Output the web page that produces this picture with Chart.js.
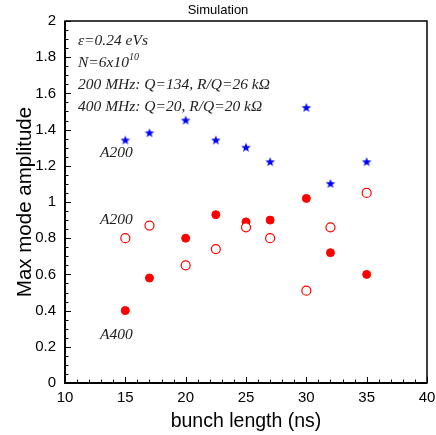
<!DOCTYPE html>
<html>
<head>
<meta charset="utf-8">
<script src="https://cdn.jsdelivr.net/npm/chart.js@4.4.1/dist/chart.umd.min.js"></script>
<style>
  html, body { margin: 0; padding: 0; background: #fff; }
  #wrap { width: 436px; height: 435px; }
</style>
</head>
<body>
<div id="wrap"><canvas id="chart" width="436" height="435"></canvas></div>
<script>
// datos
const bunchLength = [15, 17, 20, 22.5, 25, 27, 30, 32, 35];
const starValues = [1.34, 1.38, 1.45, 1.34, 1.30, 1.22, 1.52, 1.10, 1.22];
const openValues = [0.80, 0.87, 0.65, 0.74, 0.86, 0.80, 0.51, 0.86, 1.05];
const filledValues = [0.40, 0.58, 0.80, 0.93, 0.89, 0.90, 1.02, 0.72, 0.60];
const xTicks = [10, 15, 20, 25, 30, 35, 40];
const yTicks = [0, 0.2, 0.4, 0.6, 0.8, 1, 1.2, 1.4, 1.6, 1.8, 2];

const toPoints = vals => vals.map((v, i) => ({ x: bunchLength[i], y: v }));

// estrella rellena para la serie azul
function starImage(r, color) {
    const c = document.createElement('canvas');
    c.width = c.height = r * 2 + 2;
    const g = c.getContext('2d');
    g.translate(r + 1, r + 1);
    g.beginPath();
    for (let i = 0; i < 10; i++) {
        const rad = i % 2 === 0 ? r : r * 0.42;
        const a = -Math.PI / 2 + i * Math.PI / 5;
        g.lineTo(rad * Math.cos(a), rad * Math.sin(a));
    }
    g.closePath();
    g.fillStyle = color;
    g.fill();
    return c;
}

// marco, ticks hacia adentro y textos
const framePlugin = {
    id: 'frame',
    afterDraw(chart) {
        const { ctx, chartArea: a, scales: { x, y } } = chart;
        ctx.save();
        ctx.strokeStyle = '#000';
        ctx.lineWidth = 1.5;
        ctx.strokeRect(a.left, a.top, a.right - a.left, a.bottom - a.top);
        ctx.lineWidth = 2;
        ctx.beginPath();
        ctx.moveTo(a.left, a.top); ctx.lineTo(a.left, a.bottom); ctx.lineTo(a.right, a.bottom);
        ctx.stroke();

        ctx.lineWidth = 1;
        ctx.beginPath();
        for (let v = 0; v <= 2.0001; v += 0.05) {
            const py = Math.round(y.getPixelForValue(v)) + 0.5;
            const major = Math.abs(v / 0.2 - Math.round(v / 0.2)) < 1e-6;
            ctx.moveTo(a.left, py); ctx.lineTo(a.left + (major ? 6 : 3.5), py);
        }
        for (let v = 10; v <= 40; v += 1) {
            const px = Math.round(x.getPixelForValue(v)) + 0.5;
            const major = v % 5 === 0;
            ctx.moveTo(px, a.bottom); ctx.lineTo(px, a.bottom - (major ? 6 : 3.5));
        }
        ctx.stroke();

        ctx.fillStyle = '#222';
        ctx.textBaseline = 'middle';
        const serif = 'italic 15.5px "Liberation Serif", "DejaVu Serif", serif';
        ctx.font = serif;
        const tx = a.left + 13;
        ctx.fillText('\u03b5=0.24 eVs', tx, 41);
        ctx.fillText('N=6x10', tx, 63);
        const w = ctx.measureText('N=6x10').width;
        ctx.font = 'italic 10px "Liberation Serif", serif';
        ctx.fillText('10', tx + w, 57);
        ctx.font = serif;
        ctx.fillText('200 MHz: Q=134, R/Q=26 k\u03a9', tx, 85);
        ctx.fillText('400 MHz: Q=20, R/Q=20 k\u03a9', tx, 107);

        ctx.fillText('A200', 100, 153);
        ctx.fillText('A200', 100, 220);
        ctx.fillText('A400', 100, 335);
        ctx.restore();
    }
};

new Chart(document.getElementById('chart'), {
    type: 'scatter',
    data: {
        datasets: [
            { data: toPoints(starValues), pointStyle: starImage(5, '#0000ff') },
            { data: toPoints(openValues), pointStyle: 'circle', pointRadius: 4.5,
              backgroundColor: '#fff', borderColor: '#ff0000', borderWidth: 1.2 },
            { data: toPoints(filledValues), pointStyle: 'circle', pointRadius: 4,
              backgroundColor: '#ff0000', borderColor: '#ff0000', borderWidth: 1 }
        ]
    },
    options: {
        responsive: false, animation: false, devicePixelRatio: 1,
        layout: { padding: { top: 0, right: 0, left: 0, bottom: 0 } },
        plugins: {
            legend: { display: false }, tooltip: { enabled: false },
            title: { display: true, text: 'Simulation', color: '#000',
                     font: { family: 'Liberation Sans, Arial', size: 13, weight: 'normal' },
                     padding: { top: 3, bottom: 2.4 } }
        },
        scales: {
            x: {
                type: 'linear', min: 10, max: 40,
                afterBuildTicks: s => { s.ticks = xTicks.map(v => ({ value: v })); },
                afterFit: s => { s.height = 52; s.paddingRight = 9; },
                grid: { display: false, drawTicks: false }, border: { display: false },
                ticks: { color: '#000', padding: 6, maxRotation: 0,
                         font: { family: 'Liberation Sans, Arial', size: 15 } },
                title: { display: true, text: 'bunch length (ns)', color: '#000', padding: { top: 2, bottom: 2 },
                         font: { family: 'Liberation Sans, Arial', size: 19.5 } }
            },
            y: {
                type: 'linear', min: 0, max: 2,
                afterBuildTicks: s => { s.ticks = yTicks.map(v => ({ value: v })); },
                afterFit: s => { s.width = 65; },
                grid: { display: false, drawTicks: false }, border: { display: false },
                ticks: { color: '#000', padding: 9, callback: v => String(Math.round(v * 10) / 10),
                         font: { family: 'Liberation Sans, Arial', size: 15 } },
                title: { display: true, text: 'Max mode amplitude', color: '#000', padding: { top: 13, bottom: 0 },
                         font: { family: 'Liberation Sans, Arial', size: 20.5 } }
            }
        }
    },
    plugins: [framePlugin]
});
</script>
</body>
</html>
